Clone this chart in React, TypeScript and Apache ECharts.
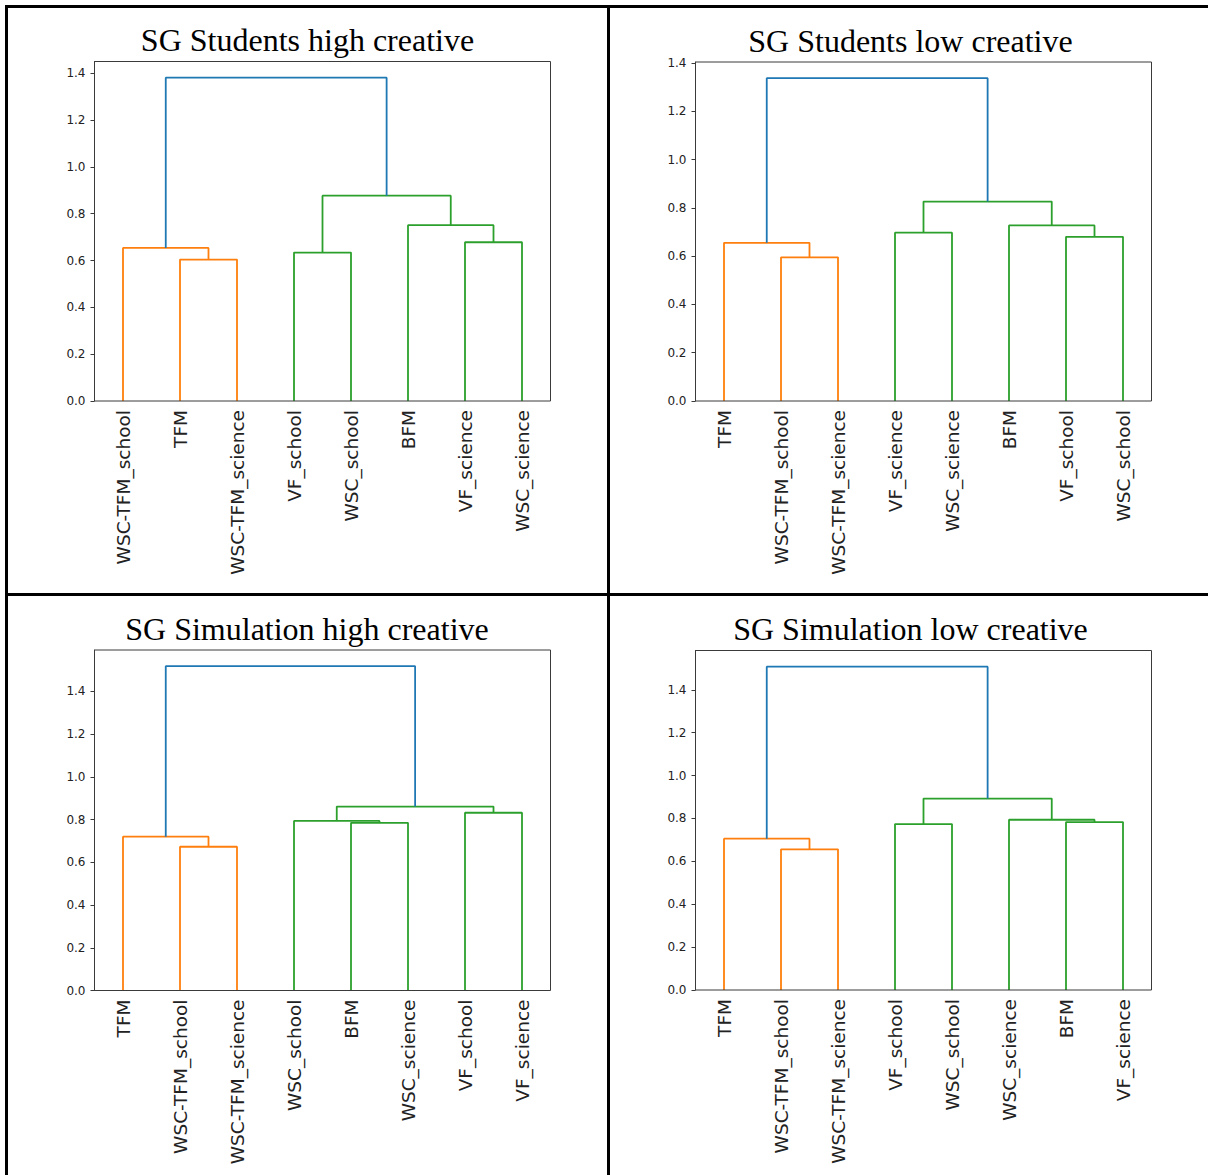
import React, { useEffect, useRef } from "react";
import * as echarts from "echarts";

// ---- data ----
const titles = [
  "SG Students high creative",
  "SG Students low creative",
  "SG Simulation high creative",
  "SG Simulation low creative",
];

// leaf labels in display order
const leavesStudentsHigh = ["WSC-TFM_school", "TFM", "WSC-TFM_science", "VF_school", "WSC_school", "BFM", "VF_science", "WSC_science"];
const leavesStudentsLow = ["TFM", "WSC-TFM_school", "WSC-TFM_science", "VF_science", "WSC_science", "BFM", "VF_school", "WSC_school"];
const leavesSimHigh = ["TFM", "WSC-TFM_school", "WSC-TFM_science", "WSC_school", "BFM", "WSC_science", "VF_school", "VF_science"];
const leavesSimLow = ["TFM", "WSC-TFM_school", "WSC-TFM_science", "VF_school", "WSC_school", "WSC_science", "BFM", "VF_science"];

// merges: [left child, right child, distance]; children 0-7 = leaves (display order), 8+ = earlier merges
const mergesStudentsHigh = [[1, 2, 0.604], [0, 8, 0.654], [3, 4, 0.634], [6, 7, 0.678], [5, 11, 0.751], [10, 12, 0.877], [9, 13, 1.381]];
const mergesStudentsLow = [[1, 2, 0.595], [0, 8, 0.655], [3, 4, 0.697], [6, 7, 0.68], [5, 11, 0.727], [10, 12, 0.826], [9, 13, 1.337]];
const mergesSimHigh = [[1, 2, 0.673], [0, 8, 0.72], [4, 5, 0.785], [3, 10, 0.794], [6, 7, 0.832], [11, 12, 0.861], [9, 13, 1.518]];
const mergesSimLow = [[1, 2, 0.656], [0, 8, 0.706], [3, 4, 0.774], [6, 7, 0.783], [5, 11, 0.794], [10, 12, 0.893], [9, 13, 1.508]];

const yTicks = [0, 0.2, 0.4, 0.6, 0.8, 1.0, 1.2, 1.4];

const panels = [
  { leaves: leavesStudentsHigh, merges: mergesStudentsHigh },
  { leaves: leavesStudentsLow, merges: mergesStudentsLow },
  { leaves: leavesSimHigh, merges: mergesSimHigh },
  { leaves: leavesSimLow, merges: mergesSimLow },
];

// ---- layout / style ----
const gridBoxes = [
  { left: 94.5, top: 61.5, width: 456, height: 339.5 },
  { left: 695.5, top: 62, width: 456, height: 339 },
  { left: 94.5, top: 650, width: 456, height: 340.5 },
  { left: 695.5, top: 650.5, width: 456, height: 339.5 },
];
const titlePos = [
  [307.5, 40],
  [910.5, 41],
  [307, 629],
  [910.5, 629],
];
const clusterColors = ["#ff7f0e", "#2ca02c", "#d62728", "#9467bd"];
const aboveColor = "#1f77b4";
const textColor = "#222";
const frameColor = "#3a3a3a";

function buildPanel(p: { leaves: string[]; merges: number[][] }, gi: number) {
  const n = p.leaves.length;
  const pos: number[] = [];
  const hgt: number[] = [];
  for (let i = 0; i < n; i++) {
    pos.push(5 + 10 * i);
    hgt.push(0);
  }
  const parent: Record<number, number> = {};
  p.merges.forEach((m, k) => {
    const id = n + k;
    pos[id] = (pos[m[0]] + pos[m[1]]) / 2;
    hgt[id] = m[2];
    parent[m[0]] = id;
    parent[m[1]] = id;
  });
  const maxH = Math.max(...p.merges.map((m) => m[2]));
  const thr = 0.7 * maxH;
  const rootOf = (id: number) => {
    let k = id;
    while (parent[k] !== undefined && hgt[parent[k]] < thr) k = parent[k];
    return k;
  };
  const roots: number[] = [];
  p.merges.forEach((m, k) => {
    const id = n + k;
    if (m[2] < thr) {
      const r = rootOf(id);
      if (!roots.includes(r)) roots.push(r);
    }
  });
  roots.sort((a, b) => pos[a] - pos[b]);
  const series = p.merges.map((m, k) => {
    const id = n + k;
    const color = m[2] < thr ? clusterColors[roots.indexOf(rootOf(id))] : aboveColor;
    return {
      type: "line",
      xAxisIndex: gi * 2 + 1,
      yAxisIndex: gi,
      showSymbol: false,
      symbol: "none",
      silent: true,
      lineStyle: { color, width: 1.8 },
      data: [
        [pos[m[0]], hgt[m[0]]],
        [pos[m[0]], m[2]],
        [pos[m[1]], m[2]],
        [pos[m[1]], hgt[m[1]]],
      ],
      z: 3,
    };
  });
  return { series, ymax: maxH * 1.05, n };
}

export default function App() {
  const ref = useRef<HTMLDivElement>(null);
  useEffect(() => {
    document.body.style.margin = "0";
    const chart = echarts.init(ref.current!, null, { renderer: "svg" });
    const grid: any[] = [];
    const xAxis: any[] = [];
    const yAxis: any[] = [];
    let series: any[] = [];
    panels.forEach((p, gi) => {
      const b = buildPanel(p, gi);
      grid.push({
        ...gridBoxes[gi],
        show: true,
        borderColor: frameColor,
        borderWidth: 1,
        backgroundColor: "transparent",
        z: 4,
      });
      xAxis.push({
        type: "category",
        gridIndex: gi,
        data: p.leaves,
        boundaryGap: true,
        axisLine: { show: false },
        axisTick: { show: false },
        splitLine: { show: false },
        axisLabel: {
          rotate: 90,
          interval: 0,
          margin: 9,
          fontFamily: "DejaVu Sans",
          fontSize: 18.5,
          color: textColor,
        },
      });
      xAxis.push({
        type: "value",
        gridIndex: gi,
        min: 0,
        max: b.n * 10,
        show: false,
      });
      yAxis.push({
        type: "value",
        gridIndex: gi,
        min: 0,
        max: b.ymax,
        axisLine: { show: true, lineStyle: { color: frameColor, width: 1 } },
        axisTick: { show: true, length: 4, customValues: yTicks, lineStyle: { color: frameColor } },
        splitLine: { show: false },
        axisLabel: {
          customValues: yTicks,
          formatter: (v: number) => v.toFixed(1),
          margin: 9,
          fontFamily: "DejaVu Sans",
          fontSize: 12,
          color: textColor,
        },
      });
      series = series.concat(b.series);
    });

    const graphic: any[] = [
      { type: "rect", shape: { x: 5, y: 5, width: 1203, height: 3 }, style: { fill: "#000" } },
      { type: "rect", shape: { x: 5, y: 5, width: 3, height: 1170 }, style: { fill: "#000" } },
      { type: "rect", shape: { x: 607, y: 5, width: 3, height: 1170 }, style: { fill: "#000" } },
      { type: "rect", shape: { x: 5, y: 593, width: 1203, height: 3 }, style: { fill: "#000" } },
    ];
    titles.forEach((t, i) => {
      graphic.push({
        type: "text",
        x: titlePos[i][0],
        y: titlePos[i][1],
        style: {
          text: t,
          fontFamily: "Liberation Serif",
          fontSize: 32,
          fill: "#000",
          align: "center",
          verticalAlign: "middle",
          textAlign: "center",
          textVerticalAlign: "middle",
        },
      });
    });

    chart.setOption({
      animation: false,
      backgroundColor: "#fff",
      grid,
      xAxis,
      yAxis,
      series,
      graphic,
    });
    return () => chart.dispose();
  }, []);
  return <div ref={ref} style={{ width: 1208, height: 1175 }} />;
}
